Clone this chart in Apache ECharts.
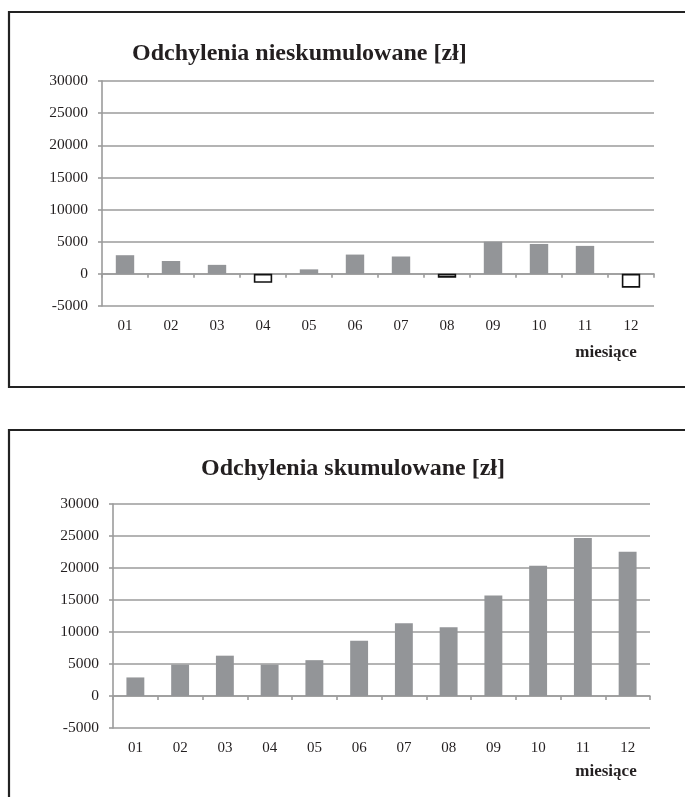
<!DOCTYPE html>
<html>
<head>
<meta charset="utf-8">
<script src="https://cdn.jsdelivr.net/npm/echarts@6/dist/echarts.min.js"></script>
<style>
  html, body { margin: 0; padding: 0; background: #fff; }
  #chart { width: 685px; height: 797px; }
</style>
</head>
<body>
<div id="chart"></div>
<script>
// Months on the category axis
const months = ['01', '02', '03', '04', '05', '06', '07', '08', '09', '10', '11', '12'];
// Monthly (non-cumulative) deviations in zł
const monthlyDeviation = [2900, 2000, 1400, -1400, 700, 3000, 2700, -600, 5000, 4650, 4350, -2150];
// Cumulative deviations in zł
const cumulativeDeviation = [2900, 4900, 6300, 4900, 5600, 8650, 11350, 10750, 15700, 20350, 24700, 22550];
// Value axis range
const yMin = -5000, yMax = 30000, yStep = 5000;

const FONT = '"Liberation Serif", "Times New Roman", serif';
const TEXT = '#231f20';
const GRID_GRAY = '#9b9b9b';
const BAR_GRAY = '#939598';

// Negative deviations are drawn as hollow boxes with a dark outline
function barItems(values) {
  return values.map(v => v < 0
    ? { value: v, itemStyle: { color: '#ffffff', borderColor: '#111', borderWidth: 1.6 } }
    : { value: v });
}

function xAxesFor(gridIndex) {
  return [
    { // zero line with ticks between months
      type: 'category', gridIndex, data: months, position: 'bottom',
      axisLine: { onZero: true, lineStyle: { color: GRID_GRAY, width: 1.6 } },
      axisTick: { show: true, length: 4, lineStyle: { color: GRID_GRAY, width: 1.6 } },
      axisLabel: { show: false }, splitLine: { show: false }
    },
    { // month labels under the plot
      type: 'category', gridIndex, data: months, position: 'bottom',
      axisLine: { show: false, onZero: false }, axisTick: { show: false },
      axisLabel: { show: true, margin: 13, fontFamily: FONT, fontSize: 15, color: TEXT }
    }
  ];
}

function yAxisFor(gridIndex) {
  return {
    type: 'value', gridIndex, min: yMin, max: yMax, interval: yStep,
    axisLine: { show: true, lineStyle: { color: GRID_GRAY, width: 1.6 } },
    axisTick: { show: true, length: 4, lineStyle: { color: GRID_GRAY, width: 1.6 } },
    splitLine: { show: true, lineStyle: { color: GRID_GRAY, width: 1.6 } },
    axisLabel: { margin: 14, fontFamily: FONT, fontSize: 15.5, color: TEXT,
      formatter: v => String(v) }
  };
}

const chart = echarts.init(document.getElementById('chart'), null, { renderer: 'canvas' });

chart.setOption({
  animation: false,
  backgroundColor: '#ffffff',
  title: [
    { text: 'Odchylenia nieskumulowane [zł]', left: 127, top: 37,
      textStyle: { fontFamily: FONT, fontSize: 24, fontWeight: 'bold', color: TEXT } },
    { text: 'Odchylenia skumulowane [zł]', left: 196, top: 452,
      textStyle: { fontFamily: FONT, fontSize: 24, fontWeight: 'bold', color: TEXT } }
  ],
  grid: [
    { left: 102, top: 81, width: 552, height: 225 },
    { left: 113, top: 504, width: 537, height: 224 }
  ],
  xAxis: [...xAxesFor(0), ...xAxesFor(1)],
  yAxis: [yAxisFor(0), yAxisFor(1)],
  series: [
    { type: 'bar', xAxisIndex: 0, yAxisIndex: 0, barWidth: '40%',
      itemStyle: { color: BAR_GRAY }, data: barItems(monthlyDeviation) },
    { type: 'bar', xAxisIndex: 2, yAxisIndex: 1, barWidth: '40%',
      itemStyle: { color: BAR_GRAY }, data: barItems(cumulativeDeviation) }
  ],
  graphic: [
    { type: 'rect', shape: { x: 9, y: 12, width: 700, height: 375 },
      style: { fill: 'none', stroke: '#222', lineWidth: 2.2 } },
    { type: 'rect', shape: { x: 9, y: 430, width: 700, height: 420 },
      style: { fill: 'none', stroke: '#222', lineWidth: 2.2 } },
    { type: 'text', x: 606, y: 353,
      style: { text: 'miesiące', font: 'bold 17px ' + FONT, fill: TEXT, textAlign: 'center', textVerticalAlign: 'middle' } },
    { type: 'text', x: 606, y: 772,
      style: { text: 'miesiące', font: 'bold 17px ' + FONT, fill: TEXT, textAlign: 'center', textVerticalAlign: 'middle' } }
  ]
});
</script>
</body>
</html>
